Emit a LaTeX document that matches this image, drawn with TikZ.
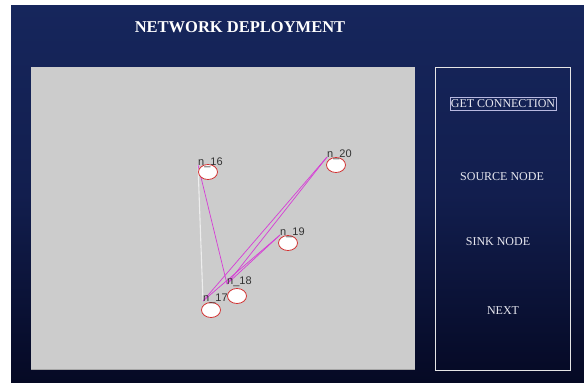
\documentclass[tikz,border=0pt]{standalone}
\usepackage{fontspec}
\setmainfont{Liberation Serif}
\newfontfamily\labelfont{Liberation Sans}
\usetikzlibrary{shapes.geometric}
\definecolor{navytop}{RGB}{22,38,92}
\definecolor{navymid}{RGB}{18,30,78}
\definecolor{navybot}{RGB}{5,9,36}
\definecolor{panelgrey}{RGB}{204,204,204}
\definecolor{linkmag}{RGB}{214,60,214}
\definecolor{nodered}{RGB}{210,50,50}
\definecolor{btntext}{RGB}{232,232,240}
\tikzset{
  sensor/.style={ellipse, draw=nodered, line width=0.8pt, fill=white, minimum width=19pt, minimum height=15pt, inner sep=0pt},
  nlabel/.style={anchor=base west, inner sep=0pt, font=\labelfont\fontsize{11}{12}\selectfont, text=black!80},
  link/.style={draw=linkmag, line width=0.7pt},
  wlink/.style={draw=white!93!black, line width=1.1pt},
  btn/.style={font=\fontsize{12}{14}\selectfont, text=btntext, inner sep=1pt},
}
\begin{document}
\begin{tikzpicture}[x=1pt,y=-1pt]
\useasboundingbox (0,0) rectangle (584,383);
\fill[white] (0,0) rectangle (584,383);
\shade[top color=navytop, bottom color=navybot, middle color=navymid] (11,5) rectangle (584,383);
\node[font=\bfseries\fontsize{16.5}{18}\selectfont, text=white] (title) at (240,27) {NETWORK DEPLOYMENT};
% field panel
\fill[panelgrey] (31,67) rectangle (415,370);
\draw[gray!70, line width=0.6pt] (31,369.5) -- (415,369.5);
% button panel
\draw[white!80!gray, line width=0.9pt] (435,67) rectangle (570,370);
\node[btn, draw=gray!60!blue!40!white, line width=0.6pt, minimum width=104pt, minimum height=13pt] (getconn) at (503,103.5) {GET CONNECTION};
\node[btn] (source) at (502,177) {SOURCE NODE};
\node[btn] (sink) at (498,242) {SINK NODE};
\node[btn] (next) at (503,311) {NEXT};
% anchor points
\coordinate (p16) at (198,165);
\coordinate (p20) at (327,157);
\coordinate (p19) at (280,235);
\coordinate (p18) at (227,284);
\coordinate (p17) at (203,301);
% links
\draw[wlink] (p16) -- (p17);
\draw[link] (p16) -- (p18);
\draw[link] (p20) -- (p17);
\draw[link] (p20) -- (p18);
\draw[link] (p19) -- (p17);
\draw[link] (p19) -- (p18);
% sensors
\node[sensor] (e16) at (208,172) {};
\node[sensor] (e20) at (336,165) {};
\node[sensor] (e19) at (288,243) {};
\node[sensor] (e18) at (237,296) {};
\node[sensor] (e17) at (211,310) {};
% labels
\node[nlabel] (l16) at (p16) {n\_16};
\node[nlabel] (l20) at (p20) {n\_20};
\node[nlabel] (l19) at (p19) {n\_19};
\node[nlabel] (l18) at (p18) {n\_18};
\node[nlabel] (l17) at (p17) {n\_17};
\end{tikzpicture}
\end{document}
